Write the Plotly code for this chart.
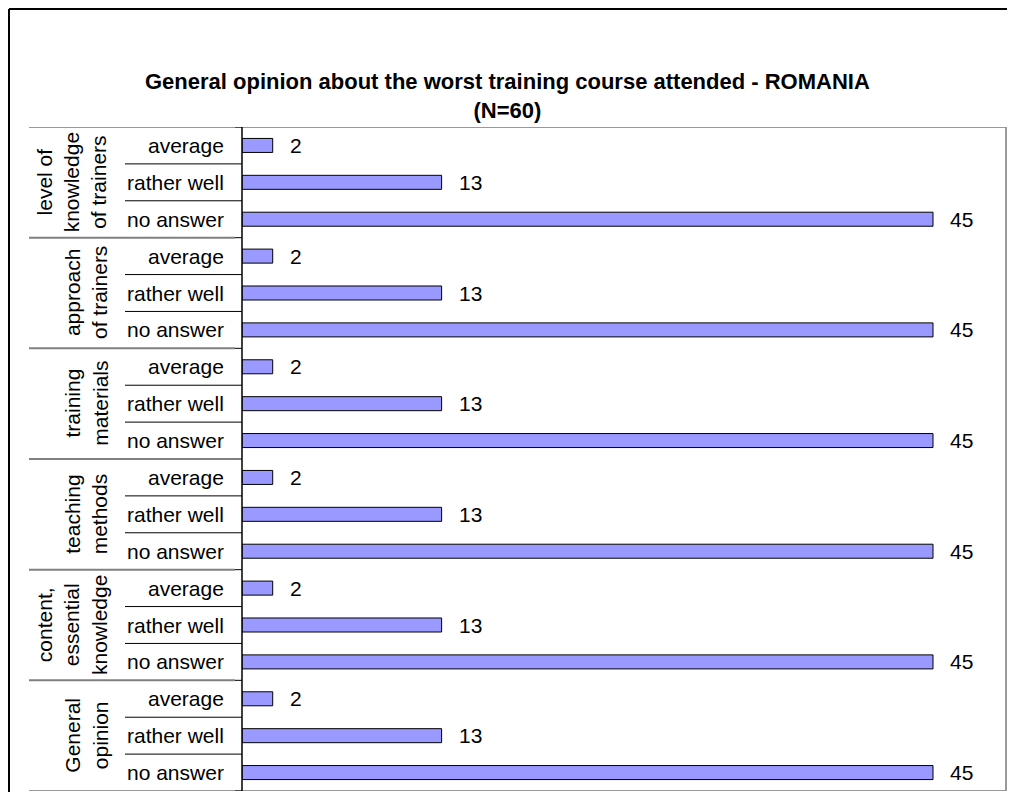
import plotly.graph_objects as go

# Data
groups = [
    "level of<br>knowledge<br>of trainers",
    "approach<br>of trainers",
    "training<br>materials",
    "teaching<br>methods",
    "content,<br>essential<br>knowledge",
    "General<br>opinion",
]
responses = ["average", "rather well", "no answer"]
values = [
    [2, 13, 45],
    [2, 13, 45],
    [2, 13, 45],
    [2, 13, 45],
    [2, 13, 45],
    [2, 13, 45],
]
title_lines = ["General opinion about the worst training course attended - ROMANIA", "(N=60)"]

# page has an 8px body margin; keep the figure inside the window
OFF = 8
W, H = 1015 - 2 * OFF, 800 - 2 * OFF
L, R, T, B = 242 - OFF, 1006 - OFF, 127 - OFF, 791 - OFF
pw = R - L
ph = B - T
XMAX = 45 * pw / (933 - 242)   # keep bar scale of the reference


def px(x):
    # screen x pixel -> paper coordinate
    return (x - OFF - L) / pw


def py(y):
    # screen y pixel -> paper coordinate
    return (B - (y - OFF)) / ph


ys, xs = [], []
for g, vals in enumerate(values):
    for r, v in enumerate(vals):
        ys.append(g * 3 + r)
        xs.append(v)
n = len(ys)

FONT = "Liberation Sans, Arial, sans-serif"
FS = 21

fig = go.Figure(go.Bar(
    x=xs, y=ys, orientation="h",
    marker=dict(color="#9999FF", line=dict(color="black", width=1)),
    width=0.38, hoverinfo="skip",
))

shapes = []
annotations = []
GRAY = "#999999"

# plot frame (top, bottom, right)
for yv in (-0.5, n - 0.5):
    shapes.append(dict(type="line", xref="paper", yref="y", x0=px(29), x1=1,
                       y0=yv, y1=yv, line=dict(color=GRAY, width=2)))
shapes.append(dict(type="line", xref="paper", yref="y", x0=1, x1=1,
                   y0=-0.5, y1=n - 0.5, line=dict(color=GRAY, width=2)))

# group separators
for k in range(1, len(groups)):
    yv = k * 3 - 0.5
    shapes.append(dict(type="line", xref="paper", yref="y", x0=px(29), x1=px(235),
                       y0=yv, y1=yv, line=dict(color="#808080", width=2)))
for k in range(len(groups) + 1):
    yv = k * 3 - 0.5
    shapes.append(dict(type="line", xref="paper", yref="y", x0=px(235), x1=0,
                       y0=yv, y1=yv, line=dict(color="black", width=1)))
    # within-group separators
    if k < len(groups):
        for j in (0.5, 1.5):
            shapes.append(dict(type="line", xref="paper", yref="y", x0=px(125), x1=0,
                               y0=k * 3 + j, y1=k * 3 + j,
                               line=dict(color="black", width=1)))

# axis line
shapes.append(dict(type="line", xref="paper", yref="y", x0=0, x1=0,
                   y0=-0.5, y1=n - 0.5, line=dict(color="black", width=1.5)))

# outer border (left and top)
shapes.append(dict(type="line", xref="paper", yref="paper", x0=px(9), x1=px(9),
                   y0=py(9), y1=py(830), line=dict(color="black", width=2)))
shapes.append(dict(type="line", xref="paper", yref="paper", x0=px(9), x1=px(1040),
                   y0=py(9), y1=py(9), line=dict(color="black", width=2)))

# category labels and values
for yv, v in zip(ys, xs):
    annotations.append(dict(xref="paper", yref="y", x=px(226), y=yv,
                            text=responses[yv % 3], showarrow=False,
                            xanchor="right", yanchor="middle",
                            font=dict(size=FS, color="black", family=FONT)))
    annotations.append(dict(xref="x", yref="y", x=v, y=yv, text=str(v),
                            showarrow=False, xanchor="left", yanchor="middle",
                            xshift=15,
                            font=dict(size=FS, color="black", family=FONT)))

# group labels
for k, g in enumerate(groups):
    annotations.append(dict(xref="paper", yref="y", x=px(113), y=k * 3 + 1,
                            text=g, showarrow=False, textangle=-90,
                            xanchor="right", yanchor="middle",
                            font=dict(size=FS, color="black", family=FONT)))

# title
annotations.append(dict(xref="paper", yref="paper", x=px(507.5), y=py(96),
                        text="<b>" + "<br>".join(title_lines) + "</b>",
                        showarrow=False, xanchor="center", yanchor="middle",
                        font=dict(size=22, color="black", family=FONT)))

fig.update_layout(
    width=W, height=H,
    margin=dict(l=L, r=W - R, t=T, b=H - B, pad=0),
    paper_bgcolor="white", plot_bgcolor="white",
    xaxis=dict(range=[0, XMAX], showgrid=False, showticklabels=False,
               zeroline=False, showline=False, ticks=""),
    yaxis=dict(range=[n - 0.5, -0.5], showgrid=False, showticklabels=False,
               zeroline=False, showline=False, ticks=""),
    shapes=shapes, annotations=annotations,
    showlegend=False,
    font=dict(family=FONT, color="black"),
)

fig.write_html("out.html")
